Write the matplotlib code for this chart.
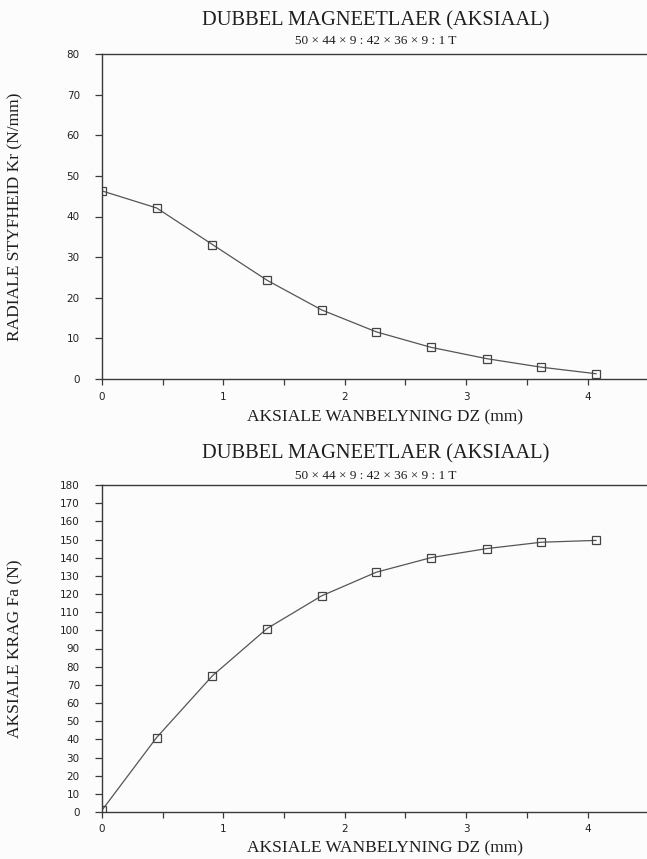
import numpy as np
import matplotlib
matplotlib.use("Agg")
import matplotlib.pyplot as plt

# ---- data ----
dz = [0.0, 0.45, 0.91, 1.36, 1.81, 2.26, 2.71, 3.17, 3.62, 4.07]
kr = [46.3, 42.1, 33.1, 24.3, 17.0, 11.6, 7.8, 5.0, 2.9, 1.3]
fa = [1.0, 41.0, 75.0, 101.0, 119.0, 132.0, 140.0, 145.0, 148.5, 149.5]

title_text = "DUBBEL MAGNEETLAER (AKSIAAL)"
subtitle_text = "50 × 44 × 9 : 42 × 36 × 9 : 1 T"
xlabel_text = "AKSIALE WANBELYNING DZ (mm)"
ylabel_top = "RADIALE STYFHEID Kr (N/mm)"
ylabel_bot = "AKSIALE KRAG Fa (N)"

xticks = [0, 0.5, 1, 1.5, 2, 2.5, 3, 3.5, 4]
xticklabels = ["0", "", "1", "", "2", "", "3", "", "4"]
yticks_top = list(range(0, 81, 10))
yticks_bot = list(range(0, 181, 10))

W, H = 647, 859
fig = plt.figure(figsize=(W / 100, H / 100), dpi=100)
bg = "#fcfcfc"
fig.patch.set_facecolor(bg)

ink = "#3a3a3a"
serif = ["Liberation Serif", "DejaVu Serif"]
sans = ["DejaVu Sans"]

def px_x(x):
    return x / W

def px_y(y):
    return 1 - y / H

def make_axes(top_px, bottom_px, yvals, yticks, ylim):
    ax = fig.add_axes([px_x(102), px_y(bottom_px), 1 - px_x(102), (bottom_px - top_px) / H])
    ax.set_facecolor(bg)
    ax.plot(dz, yvals, color="#555555", lw=0.9, marker="s", markersize=5.5,
            markerfacecolor="none", markeredgecolor="#444444", markeredgewidth=0.9)
    ax.set_xlim(0, 4.49)
    ax.set_ylim(*ylim)
    ax.set_xticks(xticks)
    ax.set_xticklabels(xticklabels)
    ax.set_yticks(yticks)
    ax.set_yticklabels([str(v) for v in yticks])
    for s in ["left", "top", "bottom"]:
        ax.spines[s].set_color(ink)
        ax.spines[s].set_linewidth(1.0)
    ax.spines["right"].set_visible(False)
    ax.tick_params(axis="y", direction="out", length=5, width=0.9, color=ink,
                   pad=11, labelsize=7.5, labelcolor="#222222")
    ax.tick_params(axis="x", direction="out", length=4, width=0.9, color=ink,
                   pad=5, labelsize=7.5, labelcolor="#222222")
    for lab in ax.get_xticklabels() + ax.get_yticklabels():
        lab.set_family(sans)
    return ax

ax1 = make_axes(54, 379, kr, yticks_top, (0, 80))
ax2 = make_axes(485, 812, fa, yticks_bot, (0, 180))

tx = px_x(376)
for ty, sty in [(21, 41), (454, 476)]:
    fig.text(tx, px_y(ty), title_text, ha="center", va="center", family=serif,
             fontsize=14.8, color="#1e1e1e")
    fig.text(tx, px_y(sty), subtitle_text, ha="center", va="center", family=serif,
             fontsize=9.5, color="#1e1e1e")

for ly in [417, 848]:
    fig.text(px_x(385), px_y(ly), xlabel_text, ha="center", va="center", family=serif,
             fontsize=12.5, color="#1e1e1e")

fig.text(px_x(15), px_y((54 + 379) / 2), ylabel_top, ha="center", va="center",
         rotation=90, family=serif, fontsize=12.5, color="#1e1e1e")
fig.text(px_x(15), px_y((485 + 812) / 2), ylabel_bot, ha="center", va="center",
         rotation=90, family=serif, fontsize=12.5, color="#1e1e1e")

fig.savefig("out.png", dpi=100, facecolor=bg)
